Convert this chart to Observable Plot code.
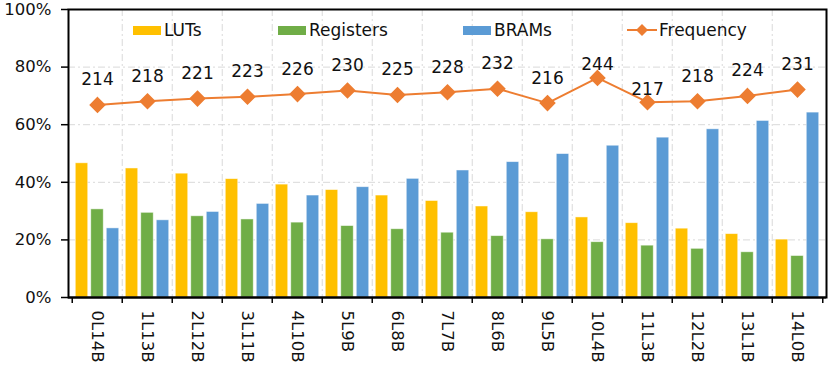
<!DOCTYPE html>
<html>
<head>
<meta charset="utf-8">
<script src="https://cdn.jsdelivr.net/npm/d3@7"></script>
<script src="https://cdn.jsdelivr.net/npm/@observablehq/plot@0.6"></script>
<style>
  html, body { margin: 0; padding: 0; background: #fff; }
  #wrap { position: relative; width: 830px; height: 366px; font-family: "DejaVu Sans", sans-serif; }
  .leg { position: absolute; top: 20px; height: 20px; display: flex; align-items: center; font-size: 17px; color: #111; white-space: nowrap; }
  .sw { width: 28px; height: 9px; margin-right: 3px; }
</style>
</head>
<body>
<div id="wrap"></div>
<script>
const categories = ["0L14B","1L13B","2L12B","3L11B","4L10B","5L9B","6L8B","7L7B","8L6B","9L5B","10L4B","11L3B","12L2B","13L1B","14L0B"];
const luts      = [0.466, 0.448, 0.430, 0.411, 0.392, 0.373, 0.354, 0.335, 0.316, 0.296, 0.278, 0.258, 0.239, 0.220, 0.201];
const registers = [0.306, 0.294, 0.282, 0.271, 0.260, 0.248, 0.237, 0.225, 0.213, 0.202, 0.192, 0.180, 0.169, 0.157, 0.144];
const brams     = [0.240, 0.268, 0.297, 0.325, 0.354, 0.383, 0.412, 0.441, 0.470, 0.498, 0.527, 0.555, 0.584, 0.613, 0.642];
const frequency = [214, 218, 221, 223, 226, 230, 225, 228, 232, 216, 244, 217, 218, 224, 231];
const freqAxisMax = 320; // hidden secondary axis: 0..320 MHz
const yTicks = [0, 0.2, 0.4, 0.6, 0.8, 1.0];
const seriesNames = ["LUTs", "Registers", "BRAMs", "Frequency"];
const colors = {LUTs: "#FFC000", Registers: "#70AD47", BRAMs: "#5B9BD5", Frequency: "#ED7D31"};

const W = 830, H = 366, ML = 68, MR = 4, MT = 9, MB = 69;
const bw = (W - ML - MR) / categories.length;
const barW = 13, gap = 2.5;
const pad = (bw - 3 * barW - 2 * gap) / 2;

const barSeries = [["LUTs", luts], ["Registers", registers], ["BRAMs", brams]];
const barMarks = barSeries.map(([name, vals], i) => {
  const il = pad + i * (barW + gap);
  return Plot.barY(categories.map((c, j) => ({cat: c, v: vals[j]})), {
    x: "cat", y: "v", fill: colors[name],
    stroke: "#fff", strokeOpacity: 0.6, strokeWidth: 0.8,
    insetLeft: il, insetRight: bw - il - barW
  });
});

const freqData = categories.map((c, j) => ({cat: c, f: frequency[j], y: frequency[j] / freqAxisMax, j}));
const dashed = {stroke: "#d9d9d9", strokeWidth: 1, strokeDasharray: "7,3,2,3"};

const plot = Plot.plot({
  width: W, height: H,
  marginLeft: ML, marginRight: MR, marginTop: MT, marginBottom: MB,
  style: {fontFamily: "DejaVu Sans, sans-serif", fontSize: "17px", color: "#111", background: "#fff"},
  x: {type: "band", domain: categories, padding: 0, axis: null, label: null},
  y: {domain: [0, 1], axis: null, label: null},
  marks: [
    Plot.ruleY([0.2, 0.4, 0.6, 0.8], dashed),
    Plot.ruleX(categories.slice(1), {...dashed, dx: -bw / 2}),
    ...barMarks,
    Plot.line(freqData, {x: "cat", y: "y", stroke: colors.Frequency, strokeWidth: 2}),
    Plot.dot(freqData, {x: "cat", y: "y", symbol: "diamond2", r: 6.5, fill: colors.Frequency, stroke: colors.Frequency}),
    Plot.text(freqData.filter(d => d.j !== 10 && d.j !== 11), {x: "cat", y: "y", text: d => String(d.f), dy: -25, fontSize: 17, fill: "#111"}),
    Plot.text(freqData.filter(d => d.j === 10 || d.j === 11), {x: "cat", y: "y", text: d => String(d.f), dy: -13, fontSize: 17, fill: "#111"}),
    Plot.axisY({ticks: yTicks, tickFormat: d3.format(".0%"), tickSize: 7, tickPadding: 10, fontSize: 16.5, stroke: "#000", strokeWidth: 1.5, label: null}),
    Plot.axisX({ticks: categories, tickSize: 0, tickPadding: 13, tickRotate: 90, fontSize: 16.5, label: null}),
    Plot.axisX({ticks: categories, text: null, tickSize: 6, dx: -bw / 2, stroke: "#000", strokeWidth: 1.5, label: null}),
    Plot.axisX({ticks: [categories[categories.length - 1]], text: null, tickSize: 6, dx: bw / 2, stroke: "#000", strokeWidth: 1.5, label: null}),
    Plot.frame({stroke: "#000", strokeWidth: 2}),
    Plot.ruleY([0], {stroke: "#000", strokeWidth: 2})
  ]
});

const wrap = document.getElementById("wrap");
wrap.appendChild(plot);

const legendPos = {LUTs: 133, Registers: 278, BRAMs: 463, Frequency: 627};
seriesNames.forEach(name => {
  const item = document.createElement("div");
  item.className = "leg";
  item.style.left = legendPos[name] + "px";
  if (name === "Frequency") {
    item.innerHTML = `<svg width="30" height="16" style="margin-right:2px"><line x1="0" y1="8" x2="30" y2="8" stroke="${colors[name]}" stroke-width="2"/><path d="M15,2L21,8L15,14L9,8Z" fill="${colors[name]}"/></svg><span>${name}</span>`;
  } else {
    item.innerHTML = `<div class="sw" style="background:${colors[name]}"></div><span>${name}</span>`;
  }
  wrap.appendChild(item);
});
</script>
</body>
</html>
